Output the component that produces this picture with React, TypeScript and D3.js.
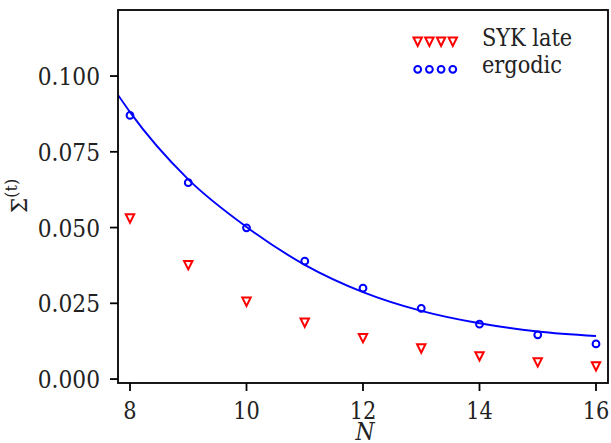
import React from "react";
import * as d3 from "d3";

const N = [8, 9, 10, 11, 12, 13, 14, 15, 16];
const sykLate = [0.053, 0.0376, 0.0255, 0.0186, 0.0135, 0.0101, 0.0075, 0.0055, 0.0042];
const ergodic = [0.087, 0.0648, 0.0499, 0.0389, 0.03, 0.0233, 0.0181, 0.0146, 0.0116];
const fitN = [7.8, 8, 9, 10, 11, 12, 13, 14, 15, 16];
const fitVals = [0.0936, 0.0881, 0.0659, 0.0502, 0.0377, 0.0287, 0.0225, 0.0184, 0.0157, 0.0142];
const xTicks = [8, 10, 12, 14, 16];
const yTicks = [0, 0.025, 0.05, 0.075, 0.1];
const yTickLabels = ["0.000", "0.025", "0.050", "0.075", "0.100"];
const legendLabels = ["SYK late", "ergodic"];

const W = 611, H = 443;
const L = 118, R = 608, T = 10, B = 383;
const FONT = "DejaVu Serif";
const SX = 0.87;

export default function App() {
  const x = d3.scaleLinear().domain([7.794, 16.206]).range([L, R]);
  const y = d3.scaleLinear().domain([-0.0013, 0.1218]).range([B, T]);
  const line = d3
    .line<number>()
    .x((_, i) => x(fitN[i]))
    .y((d) => y(d))
    .curve(d3.curveMonotoneX);

  const tri = (cx: number, cy: number) => {
    const s = 4.2;
    return `M${cx - s},${cy - s}L${cx + s},${cy - s}L${cx},${cy + s}Z`;
  };

  const legX = [417.7, 429.4, 441.1, 452.8];

  return (
    <svg width={W} height={H} style={{ position: "absolute", left: 0, top: 0, background: "#fff" }}>
      <defs>
        <clipPath id="plot">
          <rect x={L} y={T} width={R - L} height={B - T} />
        </clipPath>
      </defs>
      <rect x={0} y={0} width={W} height={H} fill="#fff" />
      <path d={line(fitVals) || ""} fill="none" stroke="#0000ff" strokeWidth={1.9} clipPath="url(#plot)" />
      {N.map((n, i) => (
        <circle key={"e" + i} cx={x(n)} cy={y(ergodic[i])} r={3.4} fill="none" stroke="#0000ff" strokeWidth={2} />
      ))}
      {N.map((n, i) => (
        <path key={"s" + i} d={tri(x(n), y(sykLate[i]))} fill="none" stroke="#ff0000" strokeWidth={2} strokeLinejoin="miter" />
      ))}
      <rect x={L} y={T} width={R - L} height={B - T} fill="none" stroke="#000" strokeWidth={1.8} />
      {xTicks.map((t) => (
        <g key={"x" + t}>
          <line x1={x(t)} x2={x(t)} y1={B} y2={B + 8} stroke="#000" strokeWidth={1.8} />
          <text transform={`translate(${x(t)},419) scale(${SX},1)`} textAnchor="middle" fontFamily={FONT} fontSize={24} fill="#222">
            {t}
          </text>
        </g>
      ))}
      {yTicks.map((t, i) => (
        <g key={"y" + t}>
          <line x1={L - 8} x2={L} y1={y(t)} y2={y(t)} stroke="#000" strokeWidth={1.8} />
          <text transform={`translate(100,${y(t) + 9}) scale(${SX},1)`} textAnchor="end" fontFamily={FONT} fontSize={25} fill="#222">
            {yTickLabels[i]}
          </text>
        </g>
      ))}
      <text transform={`translate(365,440) scale(${SX},1)`} textAnchor="middle" fontFamily={FONT} fontSize={25} fontStyle="italic" fill="#222">
        N
      </text>
      <text transform="translate(27,196) rotate(-90)" textAnchor="middle" fontFamily={FONT} fontSize={22} fill="#222">
        Σ<tspan dy={-10} fontSize={16}>(t)</tspan>
      </text>
      <text transform={`translate(482,46) scale(${SX},1)`} fontFamily={FONT} fontSize={24} fill="#222">
        {legendLabels[0]}
      </text>
      <text transform={`translate(482,73) scale(${SX},1)`} fontFamily={FONT} fontSize={24} fill="#222">
        {legendLabels[1]}
      </text>
      {legX.map((lx, i) => (
        <path key={"lt" + i} d={tri(lx, 41.7)} fill="none" stroke="#ff0000" strokeWidth={2} />
      ))}
      {legX.map((lx, i) => (
        <circle key={"lc" + i} cx={lx} cy={69.3} r={3.4} fill="none" stroke="#0000ff" strokeWidth={2} />
      ))}
    </svg>
  );
}
